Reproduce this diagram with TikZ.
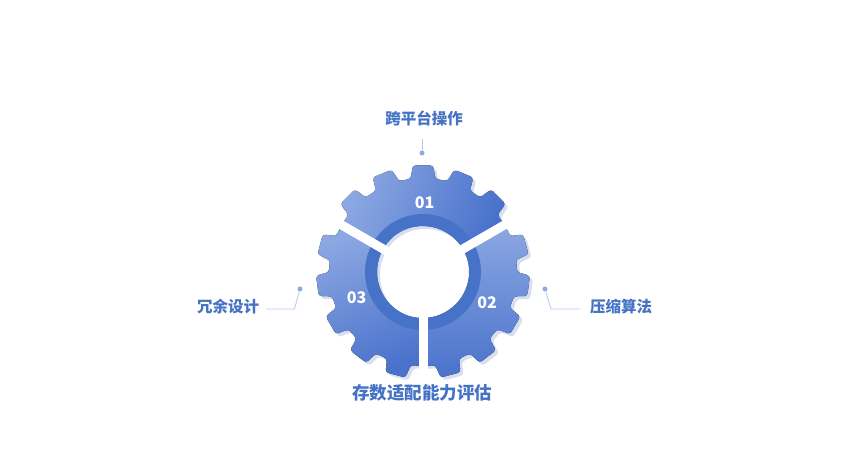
\documentclass[tikz,border=0pt]{standalone}
\usepackage{fontspec}
\newfontfamily\cjk{Noto Sans CJK SC}
\definecolor{labelblue}{HTML}{4472C4}
\definecolor{gearlight}{HTML}{8CA8E2}
\definecolor{geardark}{HTML}{4A72CC}
\definecolor{ringblue}{HTML}{4672C8}
\definecolor{gearshadow}{HTML}{D6DEF0}
\definecolor{lineblue}{HTML}{B7C8EE}
\definecolor{dotblue}{HTML}{90A9E0}
\tikzset{
	lbl/.style={font=\cjk\bfseries\fontsize{15.5}{18}\selectfont,text=labelblue,inner sep=0},
	num/.style={font=\cjk\bfseries\fontsize{16}{18}\selectfont,text=white,inner sep=0},
	dot/.style={circle,fill=dotblue,inner sep=0,outer sep=0,minimum size=5pt},
	link/.style={draw=lineblue,line width=0.8pt},
	gapline/.style={white,line width=9pt}
}

\begin{document}
\begin{tikzpicture}[x=1pt,y=1pt]
	\useasboundingbox (0,0) rectangle (846,476);
	\begin{scope}[shift={(423,204)}]
		\foreach \c/\a in {90/70,-30/0,210/20} {
			\fill[rounded corners=3pt,shading=axis,top color=gearlight,bottom color=geardark,shading angle=\a,
				preaction={fill=gearshadow,transform canvas={xshift=3pt,yshift=-3pt}}]
				({\c-60}:46) -- ({\c-60}:94)
				\foreach \k in {-2,...,2} {
					-- ({\c+\k*22.5-7.5}:94) -- ({\c+\k*22.5-5.5}:107) -- ({\c+\k*22.5+5.5}:107) -- ({\c+\k*22.5+7.5}:94)
				}
				-- ({\c+60}:94) -- ({\c+60}:46) arc[start angle=\c+60,end angle=\c-60,radius=46] -- cycle;
		}
		\fill[ringblue,even odd rule] (0,0) circle[radius=58] (0,0) circle[radius=46];
		\foreach \g in {30,150,270}
			\draw[gapline] (0,0) -- (\g:122);
	\end{scope}
	\node[num] (01) at (424.5,273.5) {01};
	\node[num] (02) at (487,173) {02};
	\node[num] (03) at (356.5,178.5) {03};
	\node[lbl] (11) at (424,357.5) {跨平台操作};
	\node[lbl] (12) at (621,169.5) {压缩算法};
	\node[lbl,font=\cjk\bfseries\fontsize{17.5}{20}\selectfont] (13) at (422,83) {存数适配能力评估};
	\node[lbl] (14) at (228,169.5) {冗余设计};
	\node[dot] (21) at (422,323) {};
	\node[dot] (22) at (545,187) {};
	\node[dot] (24) at (300,187) {};
	\coordinate (31) at (422,337);
	\coordinate (32) at (551,167);
	\coordinate (33) at (580,167);
	\coordinate (34) at (294.5,167);
	\coordinate (35) at (266,167);
	\draw[link] (21) -- (31);
	\draw[link] (22) -- (32) -- (33);
	\draw[link] (24) -- (34) -- (35);
\end{tikzpicture}
\end{document}
